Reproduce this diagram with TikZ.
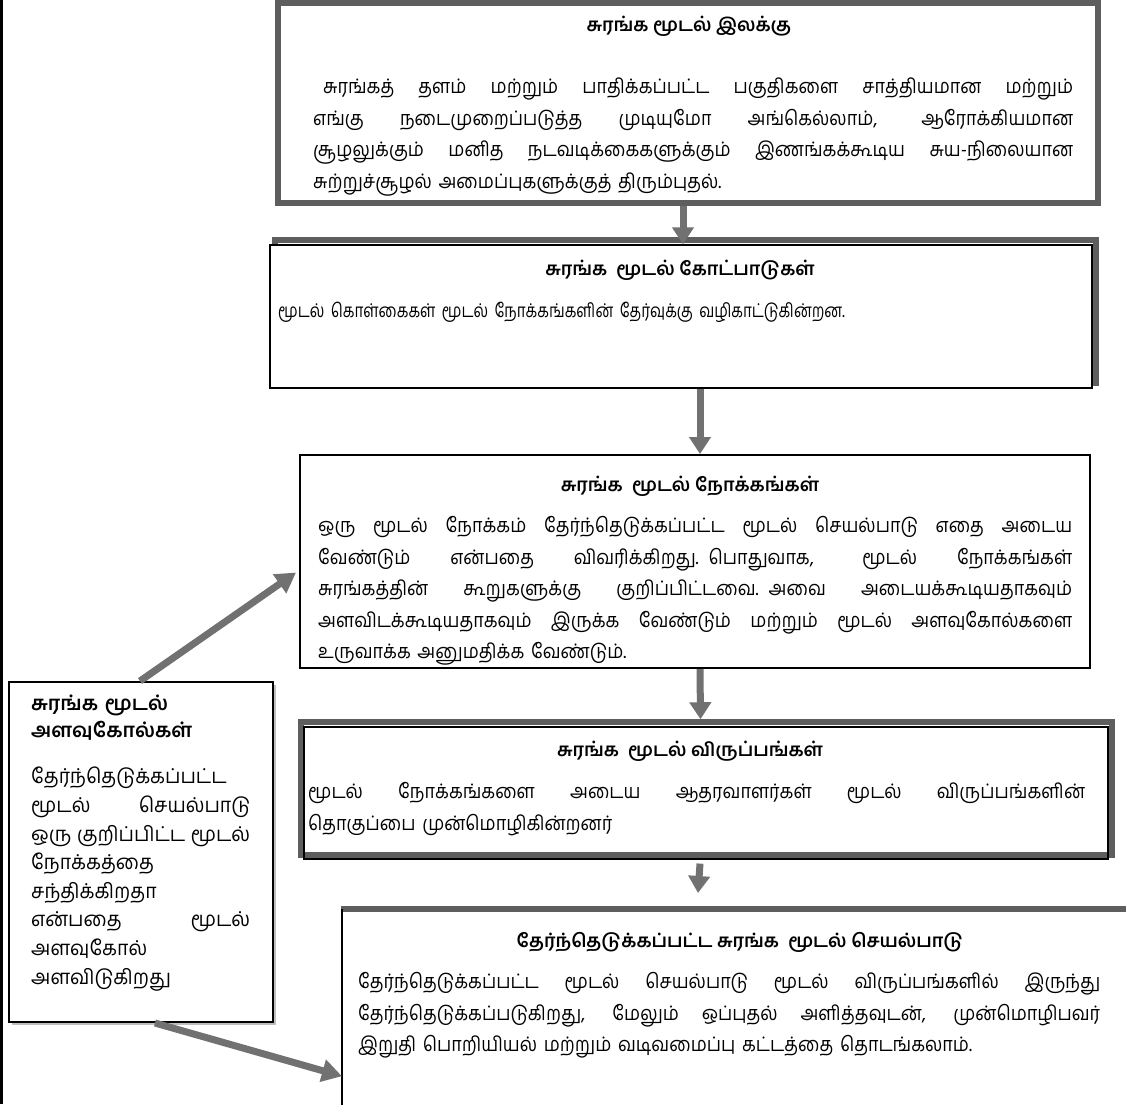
\documentclass[tikz,border=0pt]{standalone}
\usepackage{fontspec}
\setmainfont{Hind Madurai}[Script=Tamil]
\usetikzlibrary{arrows.meta,calc}
\definecolor{arrgray}{HTML}{717171}
\definecolor{boxgray}{HTML}{5E5E5E}
\newcommand\jusline[2]{\makebox[#1][s]{\spaceskip=0.25em plus 20em minus 0.1em\relax #2}}
\begin{document}
\begin{tikzpicture}[x=1pt,y=-1pt,
  ttl/.style={font=\fontsize{18.5}{22}\selectfont\bfseries, inner sep=0pt, anchor=base},
  body/.style={font=\fontsize{20}{31.5}\selectfont\addfontfeature{FakeStretch=0.9}, align=left, inner sep=0pt, anchor=north west},
  lbody/.style={font=\fontsize{20.5}{28.6}\selectfont\addfontfeature{FakeStretch=0.95}, align=left, inner sep=0pt, anchor=north west, text width=219pt},
  arr/.style={draw=arrgray, line width=7pt, -{Triangle[width=21pt,length=17pt]}},
  darr/.style={draw=arrgray, line width=7pt, -{Triangle[width=22pt,length=20pt]}},
  graybox/.style={draw=boxgray, line width=5.5pt, inner sep=0pt},
  thinbox/.style={draw=black, line width=1.4pt, inner sep=0pt},
]
\useasboundingbox (0,0) rectangle (1126,1104);
\fill[white] (0,0) rectangle (1126,1104);
\draw[line width=3pt] (1.5,0) -- (1.5,1104);

% box 1
\node[graybox, minimum width=820pt, minimum height=200pt] (b1) at (688,103) {};
\node[ttl] (t1) at (689,31) {சுரங்க மூடல் இலக்கு};
\node[body, text width=760pt] (x1) at (313,71.6) {\strut\jusline{760pt}{\hspace*{10pt}சுரங்கத் தளம் மற்றும் பாதிக்கப்பட்ட பகுதிகளை சாத்தியமான மற்றும்}\\
\jusline{760pt}{எங்கு நடைமுறைப்படுத்த முடியுமோ அங்கெல்லாம், ஆரோக்கியமான}\\
\jusline{760pt}{சூழலுக்கும் மனித நடவடிக்கைகளுக்கும் இணங்கக்கூடிய சுய-நிலையான}\\
சுற்றுச்சூழல் அமைப்புகளுக்குத் திரும்புதல்.};

% box 2
\node[graybox, minimum width=821pt, minimum height=143pt] (b2s) at (685.5,311.5) {};
\node[thinbox, fill=white, minimum width=822pt, minimum height=143pt] (b2) at (681,316.5) {};
\node[ttl] (t2) at (680,275) {சுரங்க\ \ மூடல் கோட்பாடுகள்};
\node[body, font=\fontsize{19}{31.5}\selectfont\addfontfeature{FakeStretch=0.8}, text width=800pt] (x2) at (278,295.6) {\strut மூடல் கொள்கைகள் மூடல் நோக்கங்களின் தேர்வுக்கு வழிகாட்டுகின்றன.};

% box 3
\node[draw, line width=2pt, inner sep=0pt, minimum width=790pt, minimum height=213pt] (b3) at (695,561.5) {};
\node[ttl] (t3) at (690,491) {சுரங்க\ \ மூடல் நோக்கங்கள்};
\node[body, text width=754pt] (x3) at (318,510.6) {\strut\jusline{754pt}{ஒரு மூடல் நோக்கம் தேர்ந்தெடுக்கப்பட்ட மூடல் செயல்பாடு எதை அடைய}\\
\jusline{754pt}{வேண்டும் என்பதை விவரிக்கிறது. பொதுவாக, மூடல் நோக்கங்கள்}\\
\jusline{754pt}{சுரங்கத்தின் கூறுகளுக்கு குறிப்பிட்டவை. அவை அடையக்கூடியதாகவும்}\\
\jusline{754pt}{அளவிடக்கூடியதாகவும் இருக்க வேண்டும் மற்றும் மூடல் அளவுகோல்களை}\\
உருவாக்க அனுமதிக்க வேண்டும்.};

% box 4
\node[graybox, minimum width=811pt, minimum height=133pt] (b4s) at (706.5,788.5) {};
\node[thinbox, line width=1.2pt, minimum width=804pt, minimum height=132pt] (b4) at (706,793) {};
\node[ttl] (t4) at (690,756) {சுரங்க\ \ மூடல் விருப்பங்கள்};
\node[body, text width=777pt] (x4) at (308,776.6) {\strut\jusline{777pt}{மூடல் நோக்கங்களை அடைய ஆதரவாளர்கள் மூடல் விருப்பங்களின்}\\
தொகுப்பை முன்மொழிகின்றனர்};

% box 5 (runs off the page)
\node[inner sep=0pt, minimum width=800pt, minimum height=220pt, anchor=north west] (b5) at (342,909) {};
\draw[boxgray, line width=6pt] ([xshift=-1pt]b5.north west) -- (b5.north east);
\draw[black, line width=2pt] (b5.north west) -- (b5.south west);
\node[ttl] (t5) at (740,947) {தேர்ந்தெடுக்கப்பட்ட சுரங்க\ \ மூடல் செயல்பாடு};
\node[body, text width=742pt] (x5) at (358,966.6) {\strut\jusline{742pt}{தேர்ந்தெடுக்கப்பட்ட மூடல் செயல்பாடு மூடல் விருப்பங்களில் இருந்து}\\
\jusline{742pt}{தேர்ந்தெடுக்கப்படுகிறது, மேலும் ஒப்புதல் அளித்தவுடன், முன்மொழிபவர்}\\
இறுதி பொறியியல் மற்றும் வடிவமைப்பு கட்டத்தை தொடங்கலாம்.};

% left box
\fill[black!25] (12,685) rectangle (276,1025);
\node[draw, fill=white, line width=2pt, inner sep=0pt, minimum width=264pt, minimum height=340pt] (lb) at (141,852) {};
\node[font=\fontsize{20}{27}\selectfont\bfseries, align=left, inner sep=0pt, anchor=north west, text width=225pt] (lt) at (31,691.6) {\strut சுரங்க மூடல்\\ அளவுகோல்கள்};
\node[lbody] (lx) at (31,763.6) {\strut தேர்ந்தெடுக்கப்பட்ட\\
\jusline{219pt}{மூடல் செயல்பாடு}\\
\jusline{219pt}{ஒரு குறிப்பிட்ட மூடல்}\\
நோக்கத்தை\\
சந்திக்கிறதா\\
\jusline{219pt}{என்பதை மூடல்}\\
அளவுகோல்\\
அளவிடுகிறது};

% arrows
\draw[arr] ([xshift=-5pt]b1.south) -- ([xshift=2pt]b2.north);
\draw[arr] ([xshift=19pt]b2.south) -- ([xshift=5pt]b3.north);
\draw[arr] ([xshift=5pt]b3.south) -- ([xshift=-6pt]b4s.north);
\draw[arr] ([xshift=-6pt,yshift=-4pt]b4.south) -- ([xshift=-8pt,yshift=16pt]b5.north -| b4.south);
\draw[darr] ([xshift=-1pt]lb.north) -- ([xshift=-3pt,yshift=-11pt]b3.west);
\draw[darr] ([xshift=14pt]lb.south) -- ([yshift=-57pt]b5.west);
\end{tikzpicture}
\end{document}
